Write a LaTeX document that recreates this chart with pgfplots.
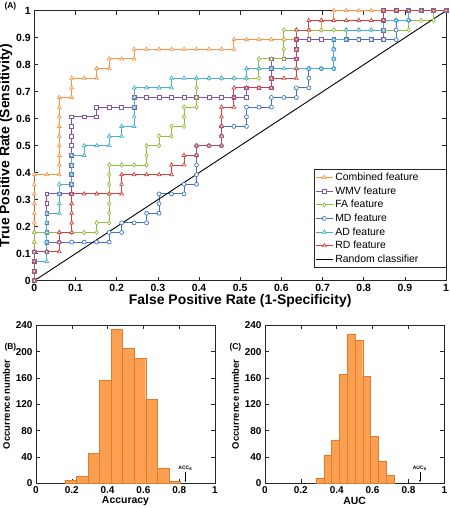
\documentclass[border=0pt]{standalone}
\usepackage{fontspec}
\setmainfont{Liberation Sans}
\usepackage{pgfplots}
\pgfplotsset{compat=1.18}
\usetikzlibrary{arrows.meta}

\definecolor{cComb}{RGB}{247,150,70}
\definecolor{cWMV}{RGB}{128,86,165}
\definecolor{cFA}{RGB}{145,190,65}
\definecolor{cMD}{RGB}{65,115,195}
\definecolor{cAD}{RGB}{70,175,210}
\definecolor{cRD}{RGB}{205,65,65}
\definecolor{hfill}{RGB}{250,160,80}
\definecolor{hedge}{RGB}{220,125,50}

\pgfplotsset{
  common/.style={
    scale only axis, anchor=south west,
    tick align=inside, tick pos=both,
    major tick length=4bp,
    axis line style={black!85, line width=0.6pt},
    tick style={black!85, line width=0.5pt},
    /pgf/number format/assume math mode=true,
    ticklabel style={font=\bfseries\fontsize{10.5}{11}\selectfont},
  },
  roc/.style={line width=0.9pt, mark size=2.2pt, mark options={solid, fill=white, line width=0.7pt}},
}

\begin{document}
\begin{tikzpicture}
\path[use as bounding box] (0bp,0bp) rectangle (450bp,508bp);

\node[anchor=west, font=\bfseries\fontsize{8.5}{9}\selectfont] at (1bp,502bp) {(A)};
\node[anchor=west, font=\bfseries\fontsize{8.5}{9}\selectfont] at (1bp,161bp) {(B)};
\node[anchor=west, font=\bfseries\fontsize{8.5}{9}\selectfont] at (226bp,161bp) {(C)};

\begin{axis}[common,
  at={(34.3bp,227.3bp)}, width=411.8bp, height=270bp,
  xmin=0, xmax=1, ymin=0, ymax=1,
  xtick={0,0.1,0.2,0.3,0.4,0.5,0.6,0.7,0.8,0.9,1},
  ytick={0,0.1,0.2,0.3,0.4,0.5,0.6,0.7,0.8,0.9,1},
  xlabel={False Positive Rate (1-Specificity)},
  ylabel={True Positive Rate (Sensitivity)},
  xlabel style={font=\bfseries\fontsize{14}{14}\selectfont, yshift=4pt},
  ylabel style={font=\bfseries\fontsize{14}{14}\selectfont, yshift=-3pt},
  legend style={at={(1,0.4126)}, anchor=north east, draw=black!85,
    font=\fontsize{10.5}{10.5}\selectfont, inner xsep=1.5pt, inner ysep=1.5pt, row sep=0.6pt},
  legend cell align=left,
]
\addplot[roc, color=cComb, mark=triangle*] coordinates {
(0,0)(0,0.0357)(0,0.0714)(0,0.1071)(0,0.1429)(0,0.1786)(0,0.2143)(0,0.25)(0,0.2857)(0,0.3214)(0,0.3571)(0,0.3929)
(0.0303,0.3929)(0.0606,0.3929)
(0.0606,0.4286)(0.0606,0.4643)(0.0606,0.5)(0.0606,0.5357)(0.0606,0.5714)(0.0606,0.6071)(0.0606,0.6429)(0.0606,0.6786)
(0.0909,0.6786)(0.0909,0.7143)(0.0909,0.75)
(0.1212,0.75)(0.1515,0.75)(0.1515,0.7857)(0.1818,0.7857)(0.1818,0.8214)
(0.2121,0.8214)(0.2424,0.8214)(0.2424,0.8571)
(0.2727,0.8571)(0.3030,0.8571)(0.3333,0.8571)(0.3636,0.8571)(0.3939,0.8571)(0.4242,0.8571)(0.4545,0.8571)(0.4848,0.8571)
(0.4848,0.8929)(0.5152,0.8929)(0.5455,0.8929)(0.5758,0.8929)(0.6061,0.8929)(0.6364,0.8929)(0.6667,0.8929)
(0.6667,0.9286)(0.6970,0.9286)(0.6970,0.9643)(0.7273,0.9643)(0.7273,1)
(0.7576,1)(0.7879,1)(0.8182,1)(0.8485,1)(0.8788,1)(0.9091,1)(0.9394,1)(0.9697,1)(1,1)
};
\addlegendentry{Combined feature}
\addplot[roc, color=cWMV, mark=square*, mark size=1.9pt] coordinates {
(0,0)(0,0.0357)(0,0.0714)(0,0.1071)(0.0303,0.1071)
(0.0303,0.1429)(0.0303,0.1786)(0.0303,0.2143)(0.0303,0.25)(0.0303,0.2857)(0.0303,0.3214)
(0.0606,0.3214)(0.0909,0.3214)
(0.0909,0.3571)(0.0909,0.3929)(0.0909,0.4286)(0.0909,0.4643)(0.0909,0.5)(0.0909,0.5357)(0.0909,0.5714)(0.0909,0.6071)
(0.1212,0.6071)(0.1515,0.6071)(0.1515,0.6429)
(0.1818,0.6429)(0.2121,0.6429)(0.2424,0.6429)(0.2424,0.6786)
(0.2727,0.6786)(0.3030,0.6786)(0.3333,0.6786)(0.3636,0.6786)(0.3939,0.6786)(0.4242,0.6786)(0.4545,0.6786)(0.4848,0.6786)(0.5152,0.6786)
(0.5152,0.7143)(0.5455,0.7143)(0.5758,0.7143)
(0.5758,0.75)(0.5758,0.7857)(0.5758,0.8214)
(0.6061,0.8214)(0.6364,0.8214)(0.6364,0.8571)(0.6364,0.8929)
(0.6667,0.8929)(0.6970,0.8929)(0.7273,0.8929)(0.7576,0.8929)(0.7879,0.8929)(0.8182,0.8929)(0.8485,0.8929)
(0.8485,0.9286)(0.8485,0.9643)(0.8485,1)
(0.8788,1)(0.9091,1)(0.9394,1)(0.9697,1)(1,1)
};
\addlegendentry{WMV feature}
\addplot[roc, color=cFA, mark=diamond*] coordinates {
(0,0)(0,0.0357)(0,0.0714)(0,0.1071)(0,0.1429)(0,0.1786)
(0.0303,0.1786)(0.0606,0.1786)(0.0909,0.1786)(0.1212,0.1786)(0.1515,0.1786)
(0.1515,0.2143)(0.1818,0.2143)
(0.1818,0.25)(0.1818,0.2857)(0.1818,0.3214)(0.1818,0.3571)(0.1818,0.3929)(0.1818,0.4286)
(0.2121,0.4286)(0.2424,0.4286)(0.2727,0.4286)
(0.2727,0.4643)(0.2727,0.5)(0.3030,0.5)(0.3030,0.5357)(0.3333,0.5357)(0.3333,0.5714)
(0.3636,0.5714)(0.3636,0.6071)(0.3636,0.6429)(0.3939,0.6429)
(0.3939,0.6786)(0.3939,0.7143)(0.3939,0.75)
(0.4242,0.75)(0.4545,0.75)(0.4848,0.75)(0.5152,0.75)(0.5455,0.75)
(0.5455,0.7857)(0.5455,0.8214)(0.5758,0.8214)(0.6061,0.8214)
(0.6061,0.8571)(0.6061,0.8929)(0.6061,0.9286)
(0.6364,0.9286)(0.6667,0.9286)(0.6970,0.9286)(0.7273,0.9286)(0.7576,0.9286)(0.7879,0.9286)(0.8182,0.9286)(0.8485,0.9286)(0.8788,0.9286)(0.9091,0.9286)
(0.9091,0.9643)(0.9394,0.9643)(0.9697,0.9643)(0.9697,1)(1,1)
};
\addlegendentry{FA feature}
\addplot[roc, color=cMD, mark=*, mark size=2pt] coordinates {
(0,0)(0,0.0357)(0,0.0714)(0,0.1071)(0.0303,0.1071)(0.0303,0.1429)
(0.0606,0.1429)(0.0909,0.1429)(0.1212,0.1429)(0.1515,0.1429)(0.1818,0.1429)
(0.1818,0.1786)(0.2121,0.1786)(0.2121,0.2143)(0.2424,0.2143)(0.2727,0.2143)
(0.2727,0.25)(0.3030,0.25)(0.3030,0.2857)(0.3030,0.3214)
(0.3333,0.3214)(0.3636,0.3214)(0.3636,0.3571)(0.3939,0.3571)
(0.3939,0.3929)(0.3939,0.4286)(0.3939,0.4643)(0.3939,0.5)
(0.4242,0.5)(0.4545,0.5)(0.4545,0.5357)(0.4545,0.5714)
(0.4848,0.5714)(0.5152,0.5714)(0.5152,0.6071)(0.5152,0.6429)
(0.5455,0.6429)(0.5758,0.6429)(0.5758,0.6786)
(0.6061,0.6786)(0.6364,0.6786)(0.6364,0.7143)(0.6667,0.7143)
(0.6667,0.75)(0.6667,0.7857)(0.6970,0.7857)(0.7273,0.7857)
(0.7273,0.8214)(0.7273,0.8571)(0.7273,0.8929)
(0.7576,0.8929)(0.7879,0.8929)(0.8182,0.8929)(0.8485,0.8929)(0.8788,0.8929)
(0.8788,0.9286)(0.8788,0.9643)(0.9091,0.9643)(0.9091,1)
(0.9394,1)(0.9697,1)(1,1)
};
\addlegendentry{MD feature}
\addplot[roc, color=cAD, mark=triangle*] coordinates {
(0,0)(0,0.0357)(0,0.0714)(0.0303,0.0714)
(0.0303,0.1071)(0.0303,0.1429)(0.0303,0.1786)(0.0303,0.2143)(0.0303,0.25)
(0.0606,0.25)(0.0606,0.2857)(0.0606,0.3214)(0.0606,0.3571)
(0.0909,0.3571)(0.0909,0.3929)(0.0909,0.4286)(0.0909,0.4643)
(0.1212,0.4643)(0.1212,0.5)(0.1515,0.5)(0.1818,0.5)(0.1818,0.5357)
(0.2121,0.5357)(0.2121,0.5714)(0.2424,0.5714)
(0.2424,0.6071)(0.2424,0.6429)(0.2424,0.6786)(0.2424,0.7143)
(0.2727,0.7143)(0.3030,0.7143)(0.3333,0.7143)(0.3333,0.75)
(0.3636,0.75)(0.3939,0.75)(0.4242,0.75)(0.4545,0.75)(0.4848,0.75)(0.5152,0.75)
(0.5152,0.7857)(0.5455,0.7857)(0.5758,0.7857)(0.6061,0.7857)(0.6364,0.7857)(0.6667,0.7857)(0.6970,0.7857)(0.7273,0.7857)
(0.7273,0.8214)(0.7273,0.8571)(0.7273,0.8929)(0.7576,0.8929)(0.7576,0.9286)
(0.7879,0.9286)(0.8182,0.9286)(0.8485,0.9286)(0.8485,0.9643)
(0.8788,0.9643)(0.9091,0.9643)(0.9091,1)(0.9394,1)(0.9697,1)(1,1)
};
\addlegendentry{AD feature}
\addplot[roc, color=cRD, mark=triangle*] coordinates {
(0,0)(0,0.0357)(0,0.0714)(0,0.1071)(0.0303,0.1071)(0.0606,0.1071)
(0.0606,0.1429)(0.0606,0.1786)(0.0909,0.1786)
(0.0909,0.2143)(0.0909,0.25)(0.0909,0.2857)(0.0909,0.3214)
(0.1212,0.3214)(0.1515,0.3214)(0.1818,0.3214)(0.2121,0.3214)
(0.2121,0.3571)(0.2121,0.3929)
(0.2424,0.3929)(0.2727,0.3929)(0.3030,0.3929)(0.3333,0.3929)
(0.3333,0.4286)(0.3636,0.4286)(0.3636,0.4643)(0.3939,0.4643)(0.3939,0.5)
(0.4242,0.5)(0.4545,0.5)(0.4545,0.5357)(0.4545,0.5714)(0.4545,0.6071)(0.4545,0.6429)
(0.4848,0.6429)(0.4848,0.6786)(0.4848,0.7143)
(0.5152,0.7143)(0.5455,0.7143)(0.5758,0.7143)(0.5758,0.75)
(0.6061,0.75)(0.6364,0.75)
(0.6364,0.7857)(0.6364,0.8214)(0.6364,0.8571)(0.6364,0.8929)(0.6364,0.9286)
(0.6667,0.9286)(0.6667,0.9643)
(0.6970,0.9643)(0.7273,0.9643)(0.7576,0.9643)(0.7879,0.9643)(0.8182,0.9643)(0.8485,0.9643)
(0.8485,1)(0.8788,1)(0.9091,1)(0.9394,1)(0.9697,1)(1,1)
};
\addlegendentry{RD feature}
\addplot[black, line width=0.9pt] coordinates {(0,0)(1,1)};
\addlegendentry{Random classifier\hspace*{24bp}}
\end{axis}

\begin{axis}[common,
  at={(36bp,24.7bp)}, width=179bp, height=158bp,
  xmin=0, xmax=1, ymin=0, ymax=240,
  xtick={0,0.2,0.4,0.6,0.8,1}, ytick={0,40,80,120,160,200,240},
  ticklabel style={font=\bfseries\fontsize{10}{10}\selectfont},
  xlabel={Accuracy}, ylabel={Occurrence number},
  xlabel style={font=\bfseries\fontsize{10.5}{11}\selectfont, yshift=4pt},
  ylabel style={font=\bfseries\fontsize{9.5}{10}\selectfont, yshift=-1pt},
]
\addplot[ybar interval, fill=hfill, draw=hedge, line width=0.4pt] coordinates {
(0.162,4)(0.226,11)(0.291,46)(0.355,157)(0.420,234)(0.484,205)(0.548,190)(0.613,127)(0.677,23)(0.742,3)(0.806,3)
};
\draw[-{Stealth[length=2pt,width=1.6pt]}, line width=0.3pt] (axis cs:0.835,17) -- (axis cs:0.835,2);
\node[font=\bfseries\fontsize{5}{5}\selectfont] at (axis cs:0.835,23) {ACC\textsubscript{s}};
\end{axis}

\begin{axis}[common,
  at={(265bp,24.7bp)}, width=179.3bp, height=158bp,
  xmin=0, xmax=1, ymin=0, ymax=240,
  xtick={0,0.2,0.4,0.6,0.8,1}, ytick={0,40,80,120,160,200,240},
  ticklabel style={font=\bfseries\fontsize{10}{10}\selectfont},
  xlabel={AUC}, ylabel={Occurrence number},
  xlabel style={font=\bfseries\fontsize{10.5}{11}\selectfont, yshift=4pt},
  ylabel style={font=\bfseries\fontsize{9.5}{10}\selectfont, yshift=-1pt},
]
\addplot[ybar interval, fill=hfill, draw=hedge, line width=0.4pt] coordinates {
(0.284,7)(0.328,43)(0.371,66)(0.415,165)(0.458,227)(0.502,217)(0.545,162)(0.589,71)(0.632,34)(0.676,12)(0.719,12)
};
\draw[-{Stealth[length=2pt,width=1.6pt]}, line width=0.3pt] (axis cs:0.864,17) -- (axis cs:0.864,2);
\node[font=\bfseries\fontsize{5}{5}\selectfont] at (axis cs:0.864,23) {AUC\textsubscript{s}};
\end{axis}
\end{tikzpicture}
\end{document}
